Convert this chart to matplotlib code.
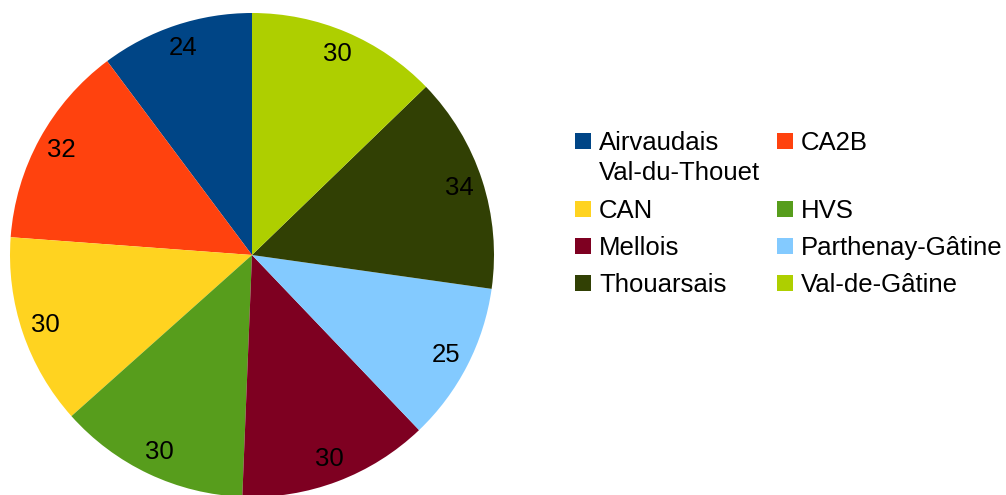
import matplotlib
matplotlib.use("Agg")
import matplotlib.pyplot as plt
from matplotlib.patches import Rectangle

# data
names = ["Airvaudais\nVal-du-Thouet", "CA2B", "CAN", "HVS", "Mellois",
         "Parthenay-Gâtine", "Thouarsais", "Val-de-Gâtine"]
values = [24, 32, 30, 30, 30, 25, 34, 30]
colors = ["#004586", "#ff420e", "#ffd320", "#579d1c", "#7e0021",
          "#83caff", "#314004", "#aecf00"]

plt.rcParams["font.family"] = ["Liberation Sans", "DejaVu Sans"]
W, H = 1006, 495
fs = 18.5
fig = plt.figure(figsize=(W / 100, H / 100), dpi=100)

# pie: centre (252, 255) px, radius 242 px
cx, cy, r = 252, 255, 242
ax = fig.add_axes([(cx - r) / W, (H - cy - r) / H, 2 * r / W, 2 * r / H])
total = sum(values)
ax.pie(values, colors=colors, startangle=90,
       autopct=lambda p: "%d" % round(p * total / 100), pctdistance=0.9,
       textprops={"fontsize": fs, "color": "black"},
       wedgeprops={"linewidth": 0})
ax.set_xlim(-1, 1)
ax.set_ylim(-1, 1)
ax.set_aspect("equal")
ax.axis("off")

# legend, two columns, row-wise order like the reference
col_x = [575, 777]
row_base = [150, 218, 255, 292]
for i, (name, col) in enumerate(zip(names, colors)):
    row, c = divmod(i, 2)
    x = col_x[c]
    yb = row_base[row]
    fig.patches.append(Rectangle((x / W, 1 - (yb - 1) / H), 16 / W, 16 / H,
                                 transform=fig.transFigure, facecolor=col,
                                 edgecolor="none"))
    lines = name.split("\n")
    for k, line in enumerate(lines):
        fig.text((x + 24) / W, 1 - (yb + 30 * k) / H, line, fontsize=fs,
                 va="baseline", ha="left", color="black")

fig.savefig("out.png", dpi=100)
